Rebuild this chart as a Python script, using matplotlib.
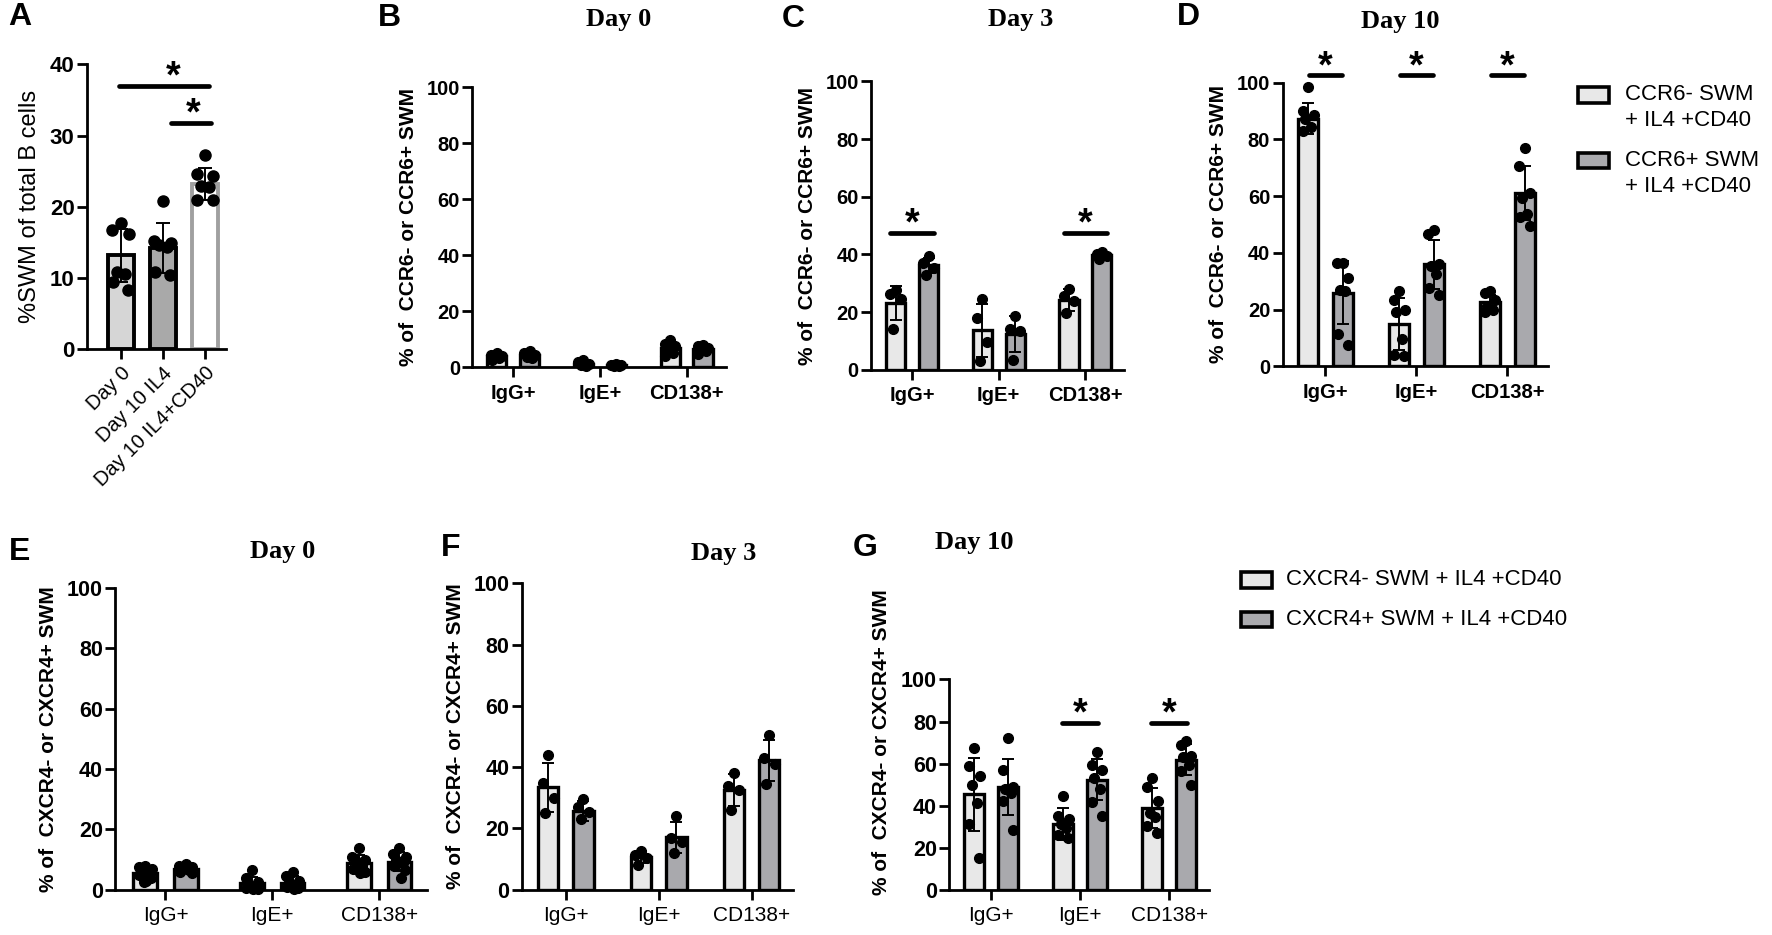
import numpy as np
import matplotlib
matplotlib.use('Agg')
import matplotlib.pyplot as plt
from matplotlib.patches import Rectangle

plt.rcParams['font.family'] = ['Liberation Sans', 'DejaVu Sans']

# ---------------- data ----------------
A_labels = ['Day 0', 'Day 10 IL4', 'Day 10 IL4+CD40']
A_mean = [13.2, 14.2, 23.2]
A_sd = [3.7, 3.5, 2.3]
A_pts = [[17.8, 16.8, 16.2, 10.8, 10.6, 9.5, 8.4],
         [20.8, 15.2, 15.0, 14.6, 14.3, 10.8, 10.5],
         [27.3, 24.6, 24.4, 23.0, 22.8, 21.0, 21.0]]

cats = ['IgG+', 'IgE+', 'CD138+']

# CCR6 day 0
B_neg_mean = [4.0, 1.3, 6.8]
B_neg_sd = [0.8, 0.8, 1.8]
B_pos_mean = [4.4, 0.8, 6.6]
B_pos_sd = [0.8, 0.3, 1.2]
B_neg_pts = [[5.0, 4.6, 4.2, 3.8, 3.2, 2.8], [2.6, 1.8, 1.2, 0.8, 0.5], [9.8, 8.5, 7.5, 6.0, 5.0, 4.2]]
B_pos_pts = [[5.8, 5.2, 4.6, 3.9, 3.4], [1.2, 1.0, 0.8, 0.6, 0.5], [8.0, 7.5, 7.0, 6.5, 6.0, 4.8]]

# CCR6 day 3
C_neg_mean = [23.1, 13.7, 24.2]
C_neg_sd = [6.0, 9.2, 3.9]
C_pos_mean = [36.2, 12.4, 39.7]
C_pos_sd = [2.7, 6.2, 1.0]
C_neg_pts = [[27.6, 26.4, 24.4, 14.0], [24.4, 18.0, 9.5, 3.0], [28.0, 25.5, 24.0, 19.5]]
C_pos_pts = [[39.6, 37.0, 35.3, 33.0], [18.5, 14.0, 13.5, 3.5], [41.0, 40.0, 39.5, 38.5]]
C_sig = [0, 2]

# CCR6 day 10
D_neg_mean = [87.2, 15.0, 22.5]
D_neg_sd = [5.5, 9.2, 2.8]
D_pos_mean = [26.0, 35.9, 61.0]
D_pos_sd = [11.0, 8.6, 9.5]
D_neg_pts = [[98.5, 90.0, 88.5, 87.0, 84.5, 83.0],
             [26.4, 23.5, 19.9, 19.3, 9.8, 4.0, 3.5],
             [26.7, 25.8, 23.5, 21.1, 19.9, 19.0]]
D_pos_pts = [[36.5, 36.5, 31.0, 27.0, 26.5, 11.5, 7.5],
             [47.9, 46.7, 36.0, 35.5, 32.4, 27.6, 25.2],
             [77.0, 70.5, 61.0, 59.2, 53.8, 52.6, 49.6]]
D_sig = [0, 1, 2]

# CXCR4 day 0
E_neg_mean = [5.4, 2.1, 8.8]
E_neg_sd = [2.0, 2.2, 2.8]
E_pos_mean = [7.0, 2.4, 9.3]
E_pos_sd = [1.0, 2.0, 3.2]
E_neg_pts = [[8.0, 7.5, 7.0, 6.0, 5.5, 5.0, 4.0, 3.0, 2.5],
             [6.5, 4.0, 2.5, 1.5, 1.0, 0.5, 0.3, 0.2],
             [14.0, 11.0, 10.0, 9.5, 8.0, 7.0, 6.0, 5.5]]
E_pos_pts = [[8.5, 8.0, 7.5, 7.0, 6.5, 6.0, 5.5],
             [6.0, 4.5, 3.0, 2.5, 1.5, 1.0, 0.5, 0.3],
             [14.0, 12.0, 11.0, 10.0, 9.0, 8.0, 6.5, 4.0]]

# CXCR4 day 3
F_neg_mean = [33.5, 10.6, 32.6]
F_neg_sd = [8.0, 2.0, 5.3]
F_pos_mean = [25.8, 17.1, 42.2]
F_pos_sd = [3.2, 5.0, 6.8]
F_neg_pts = [[44.0, 35.0, 30.0, 25.0], [12.5, 11.5, 10.5, 8.0], [38.0, 34.0, 32.5, 26.0]]
F_pos_pts = [[29.5, 27.0, 25.5, 23.0], [24.0, 17.0, 15.5, 12.0], [50.5, 43.0, 41.0, 34.5]]

# CXCR4 day 10
G_neg_mean = [45.4, 31.4, 39.1]
G_neg_sd = [17.5, 7.5, 9.5]
G_pos_mean = [48.7, 52.4, 61.8]
G_pos_sd = [13.3, 9.8, 7.3]
G_neg_pts = [[67.2, 58.9, 54.0, 49.7, 41.5, 31.5, 15.2],
             [44.8, 35.0, 33.7, 31.5, 29.3, 26.1, 24.5],
             [53.3, 49.1, 42.4, 36.4, 34.8, 30.4, 27.2]]
G_pos_pts = [[72.0, 57.0, 49.0, 48.0, 46.0, 42.0, 28.5],
             [65.4, 59.5, 56.9, 53.3, 47.8, 41.8, 35.0],
             [70.9, 69.0, 63.6, 63.0, 59.2, 56.5, 50.0]]
G_sig = [1, 2]

# ---------------- style ----------------
LIGHT = '#e8e8e8'
DARK = '#a9a9ad'
A_fill = ['#d6d6d6', '#a9a9a9', 'white']
A_edge = ['black', 'black', '#a0a0a0']
SERIF = ['Liberation Serif', 'DejaVu Serif']
spread = np.array([0.0, -1.0, 1.0, -0.5, 0.5, -0.9, 0.9, 0.2, -0.2])

W, H = 1568.0, 827.0


def box(l, r, t, b):
    return [l / W, 1 - b / H, (r - l) / W, (b - t) / H]


def fx(x):
    return x / W


def fy(y):
    return 1 - y / H


def style(ax, ymax, step, tsize, cat_size, cat_weight):
    for s in ['top', 'right']:
        ax.spines[s].set_visible(False)
    for s in ['left', 'bottom']:
        ax.spines[s].set_linewidth(2)
    ax.set_ylim(0, ymax)
    ax.set_yticks(np.arange(0, ymax + 1, step))
    ax.tick_params(width=2, length=7)
    ax.tick_params(axis='y', pad=2)
    ax.tick_params(axis='x', pad=5)
    for t in ax.get_yticklabels():
        t.set_fontsize(tsize)
        t.set_fontweight('bold')
    for t in ax.get_xticklabels():
        t.set_fontsize(cat_size)
        t.set_fontweight(cat_weight)


def draw_dots(ax, x, pts, width, ms):
    n = len(pts)
    ax.plot(x + spread[:n] * width, pts, 'o', color='black', ms=ms,
            zorder=5, clip_on=False)


def star(ax, x, y, half=None, x0=None, x1=None):
    if half is not None:
        x0, x1 = x - half, x + half
    ax.plot([x0, x1], [y, y], color='black', lw=3.4,
            solid_capstyle='round', clip_on=False, zorder=6)
    ax.annotate('*', (x, y), xytext=(0, -7), textcoords='offset points',
                ha='center', va='bottom', fontsize=27, fontweight='bold',
                annotation_clip=False)


def pair_panel(ax, nm, nsd, pm, psd, npts, ppts, sig, sig_y, half,
               ylabel, tsize, cat_size, cat_weight, ms, ylsize):
    x = np.arange(len(cats))
    off, w = 0.19, 0.22
    ax.bar(x - off, nm, w, color=LIGHT, edgecolor='black', lw=2.4, zorder=2)
    ax.bar(x + off, pm, w, color=DARK, edgecolor='black', lw=2.4, zorder=2)
    ax.errorbar(x - off, nm, yerr=nsd, fmt='none', ecolor='black',
                elinewidth=1.4, capsize=4, capthick=1.4, zorder=3)
    ax.errorbar(x + off, pm, yerr=psd, fmt='none', ecolor='black',
                elinewidth=1.4, capsize=4, capthick=1.4, zorder=3)
    for i in range(len(cats)):
        draw_dots(ax, x[i] - off, npts[i], 0.06, ms)
        draw_dots(ax, x[i] + off, ppts[i], 0.06, ms)
    for i in sig:
        star(ax, x[i], sig_y, half)
    ax.set_xticks(x)
    ax.set_xticklabels(cats)
    ax.set_xlim(-0.47, 2.45)
    ax.set_ylabel(ylabel, fontsize=ylsize, fontweight='bold', labelpad=6)
    style(ax, 100, 20, tsize, cat_size, cat_weight)


fig = plt.figure(figsize=(17.72, 9.35), dpi=100)

# ---- A ----
axA = fig.add_axes(box(77, 200, 57, 309))
xa = np.arange(3)
axA.bar(xa, A_mean, 0.62, color=A_fill, edgecolor=A_edge, lw=2.8, zorder=2)
axA.errorbar(xa, A_mean, yerr=A_sd, fmt='none', ecolor='black',
             elinewidth=1.4, capsize=5, capthick=1.4, zorder=3)
for i in range(3):
    draw_dots(axA, xa[i], A_pts[i], 0.2, 8)
star(axA, 1.25, 37.0, x0=-0.05, x1=2.1)
star(axA, 1.72, 31.8, x0=1.2, x1=2.15)
axA.set_xticks(xa)
axA.set_xticklabels(A_labels, rotation=45, ha='right', rotation_mode='anchor')
axA.set_xlim(-0.8, 2.5)
axA.set_ylabel('%SWM of total B cells', fontsize=17, labelpad=6)
style(axA, 40, 10, 16, 14.5, 'normal')
axA.tick_params(axis='x', pad=3)

# ---- B, C, D ----
ccr_label = '% of  CCR6- or CCR6+ SWM'
axB = fig.add_axes(box(418, 642, 77, 325))
pair_panel(axB, B_neg_mean, B_neg_sd, B_pos_mean, B_pos_sd, B_neg_pts, B_pos_pts,
           [], 0, 0, ccr_label, 14.5, 14.5, 'bold', 7, 15)
axC = fig.add_axes(box(771, 995, 72, 327))
pair_panel(axC, C_neg_mean, C_neg_sd, C_pos_mean, C_pos_sd, C_neg_pts, C_pos_pts,
           C_sig, 47.5, 0.25, ccr_label, 14.5, 14.5, 'bold', 7, 15)
axD = fig.add_axes(box(1135, 1370, 73, 324))
pair_panel(axD, D_neg_mean, D_neg_sd, D_pos_mean, D_pos_sd, D_neg_pts, D_pos_pts,
           D_sig, 102.5, 0.18, ccr_label, 14.5, 14.5, 'bold', 7, 15)

# ---- E, F, G ----
cx_label = '% of  CXCR4- or CXCR4+ SWM'
axE = fig.add_axes(box(102, 378, 520, 787))
pair_panel(axE, E_neg_mean, E_neg_sd, E_pos_mean, E_pos_sd, E_neg_pts, E_pos_pts,
           [], 0, 0, cx_label, 15.5, 15, 'normal', 7, 15)
axF = fig.add_axes(box(462, 702, 516, 787))
pair_panel(axF, F_neg_mean, F_neg_sd, F_pos_mean, F_pos_sd, F_neg_pts, F_pos_pts,
           [], 0, 0, cx_label, 15.5, 15, 'normal', 7, 15)
axG = fig.add_axes(box(840, 1070, 601, 787))
pair_panel(axG, G_neg_mean, G_neg_sd, G_pos_mean, G_pos_sd, G_neg_pts, G_pos_pts,
           G_sig, 79.5, 0.2, cx_label, 15.5, 15, 'normal', 7, 15)
axG.yaxis.set_label_coords(-0.225, 0.70)

# ---- panel letters and titles ----
for letter, x, y in [('A', 7, 15), ('B', 334, 16), ('C', 692, 17), ('D', 1041, 15),
                     ('E', 8, 488), ('F', 390, 485), ('G', 755, 485)]:
    fig.text(fx(x), fy(y), letter, fontsize=23, fontweight='bold', va='center', ha='left')
for title, x, y in [('Day 0', 547, 17), ('Day 3', 903, 17), ('Day 10', 1239, 19),
                    ('Day 0', 250, 488), ('Day 3', 640, 490), ('Day 10', 862, 480)]:
    fig.text(fx(x), fy(y), title, fontsize=19, fontweight='bold', family=SERIF,
             ha='center', va='center')


# ---- legends ----
def legend_entry(x, y, w, h, color, lines, tx, line_gap):
    fig.patches.append(Rectangle((fx(x), fy(y + h / 2)), w / W, h / H,
                                 transform=fig.transFigure, facecolor=color,
                                 edgecolor='black', lw=2.6))
    for k, line in enumerate(lines):
        fig.text(fx(tx), fy(y + k * line_gap), line, fontsize=16,
                 ha='left', va='center')


legend_entry(1396, 84, 28, 14, LIGHT, ['CCR6- SWM', '+ IL4 +CD40'], 1438, 23)
legend_entry(1396, 142, 28, 14, DARK, ['CCR6+ SWM', '+ IL4 +CD40'], 1438, 23)
legend_entry(1098, 513, 28, 14, LIGHT, ['CXCR4- SWM + IL4 +CD40'], 1138, 0)
legend_entry(1098, 548, 28, 14, DARK, ['CXCR4+ SWM + IL4 +CD40'], 1138, 0)

fig.savefig('out.png', dpi=100, facecolor='white')
